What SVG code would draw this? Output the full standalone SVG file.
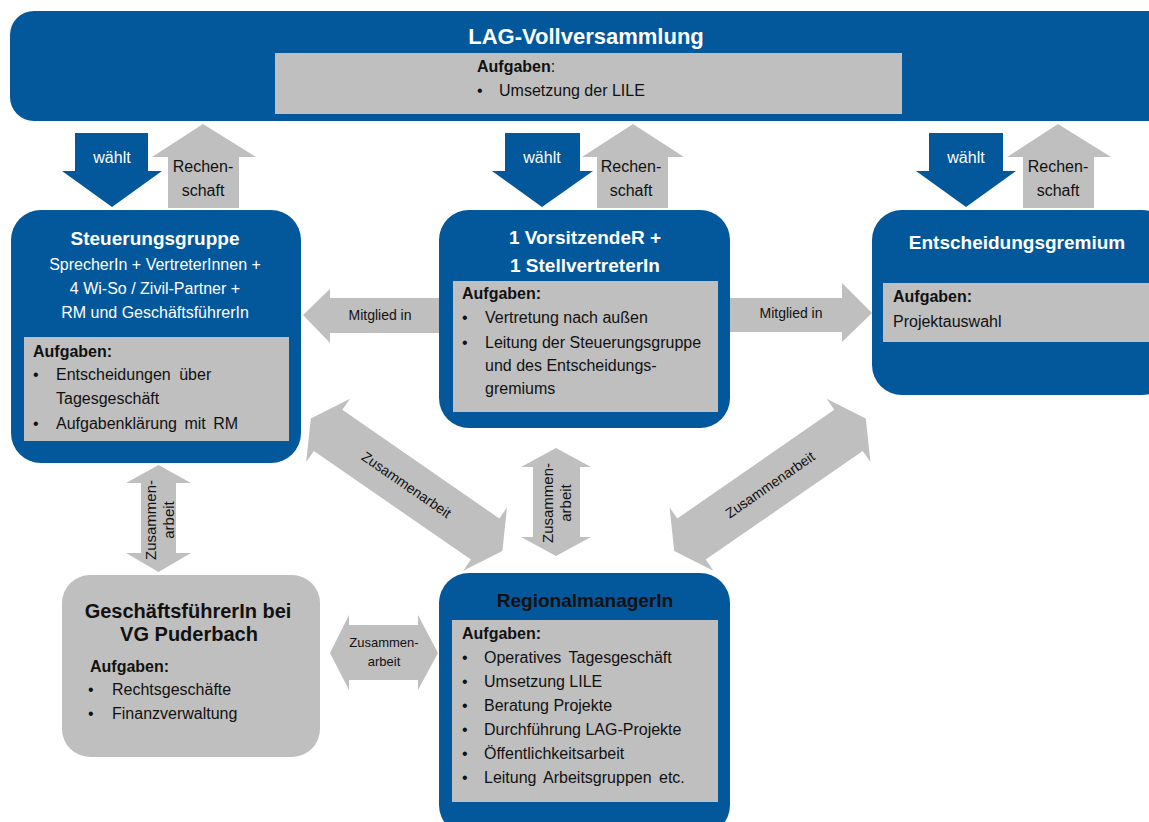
<svg xmlns="http://www.w3.org/2000/svg" width="1149" height="822" viewBox="0 0 1149 822">
<style>
.blue{fill:#03579B}
.gray{fill:#BFBFBF}
text{font-family:"Liberation Sans",Arial,sans-serif;}
.w{fill:#FFFFFF}
.k{fill:#111111}
.b{font-weight:bold}
.f16{font-size:16px}
.f19{font-size:19px}
.f15{font-size:15px}
.f14{font-size:14px}
.f13{font-size:13px}
.c{text-anchor:middle}
</style>
<rect width="1149" height="822" fill="#FFFFFF"/>

<g id="connectors">
  <!-- wählt arrows (blue, down) -->
  <polygon class="blue" points="75,133 148,133 148,171 162,171 112,207 62,171 75,171"/>
  <polygon class="blue" points="505,133 580,133 580,171 593,171 542,207 492,171 505,171"/>
  <polygon class="blue" points="929,133 1003,133 1003,171 1016,171 966,207 916,171 929,171"/>
  <!-- Rechenschaft arrows (gray, up) -->
  <polygon class="gray" points="203,124 256,157 239,157 239,208 168,208 168,157 152,157"/>
  <polygon class="gray" points="633,124 684,157 668,157 668,208 597,208 597,157 582,157"/>
  <polygon class="gray" points="1058,124 1111,157 1094,157 1094,208 1023,208 1023,157 1007,157"/>
  <text class="w f16 c" x="112" y="163">wählt</text>
  <text class="w f16 c" x="542" y="163">wählt</text>
  <text class="w f16 c" x="966" y="163">wählt</text>
  <text class="k f16 c" x="203" y="172">Rechen-</text>
  <text class="k f16 c" x="203" y="196">schaft</text>
  <text class="k f16 c" x="631" y="172">Rechen-</text>
  <text class="k f16 c" x="631" y="196">schaft</text>
  <text class="k f16 c" x="1058" y="172">Rechen-</text>
  <text class="k f16 c" x="1058" y="196">schaft</text>

  <!-- Mitglied in arrows -->
  <polygon class="gray" points="303,315 330,289 330,298 445,298 445,333 330,333 330,343"/>
  <text class="k f14 c" x="380" y="320">Mitglied in</text>
  <polygon class="gray" points="872,313 842,283 842,298 725,298 725,332 842,332 842,342"/>
  <text class="k f14 c" x="791" y="318">Mitglied in</text>

  <!-- Diagonal Zusammenarbeit arrows -->
  <g transform="translate(406.6,484.7) rotate(34.7)">
    <polygon class="gray" points="-116.5,0 -95.5,-38.5 -95.5,-25 95.5,-25 95.5,-38.5 116.5,0 95.5,38.5 95.5,25 -95.5,25 -95.5,38.5"/>
    <text class="k f14 c" x="0" y="5">Zusammenarbeit</text>
  </g>
  <g transform="translate(770,484.7) rotate(-34.7)">
    <polygon class="gray" points="-116.5,0 -95.5,-38.5 -95.5,-25 95.5,-25 95.5,-38.5 116.5,0 95.5,38.5 95.5,25 -95.5,25 -95.5,38.5"/>
    <text class="k f14 c" x="0" y="5">Zusammenarbeit</text>
  </g>

  <!-- Vertical middle -->
  <polygon class="gray" points="556,448 591,467 580,467 580,537 591,537 556,556 521,537 533,537 533,467 521,467"/>
  <g transform="translate(556,503) rotate(-90)">
    <text class="k f15 c" x="0" y="-3">Zusammen-</text>
    <text class="k f15 c" x="0" y="15">arbeit</text>
  </g>
  <!-- Vertical left -->
  <polygon class="gray" points="158.5,465 191,483 176,483 176,553 191,553 158.5,572 126,553 141,553 141,483 126,483"/>
  <g transform="translate(158.5,520) rotate(-90)">
    <text class="k f15 c" x="0" y="-3">Zusammen-</text>
    <text class="k f15 c" x="0" y="15">arbeit</text>
  </g>
  <!-- Horizontal -->
  <polygon class="gray" points="330,653 349,615 349,625 418,625 418,615 438,653 418,690 418,680 349,680 349,690"/>
  <text class="k f13 c" x="384" y="647">Zusammen-</text>
  <text class="k f13 c" x="384" y="666">arbeit</text>
</g>

<g id="lag-vollversammlung">
  <rect class="blue" x="10" y="11" width="1170" height="110" rx="24"/>
  <text class="w b c" x="586" y="44" font-size="22">LAG-Vollversammlung</text>
  <rect class="gray" x="275" y="53" width="627" height="61"/>
  <text class="k f16" x="477" y="72"><tspan class="b">Aufgaben</tspan>:</text>
  <text class="k f16" x="477" y="96">•</text>
  <text class="k f16" x="499" y="96">Umsetzung der LILE</text>
</g>

<g id="steuerungsgruppe">
  <rect class="blue" x="11" y="210" width="290" height="253" rx="30"/>
  <text class="w b f19 c" x="155" y="245">Steuerungsgruppe</text>
  <text class="w f16 c" x="155" y="270">SprecherIn + VertreterInnen +</text>
  <text class="w f16 c" x="155" y="294">4 Wi-So / Zivil-Partner +</text>
  <text class="w f16 c" x="155" y="318">RM und GeschäftsführerIn</text>
  <rect class="gray" x="24" y="337" width="265" height="104"/>
  <text class="k b f16" x="33" y="357">Aufgaben:</text>
  <text class="k f16" x="33" y="380">•</text>
  <text class="k f16" x="56" y="380" word-spacing="4">Entscheidungen über</text>
  <text class="k f16" x="56" y="404">Tagesgeschäft</text>
  <text class="k f16" x="33" y="429">•</text>
  <text class="k f16" x="56" y="429" word-spacing="3">Aufgabenklärung mit RM</text>
</g>

<g id="vorsitz">
  <rect class="blue" x="439" y="210" width="291" height="218" rx="30"/>
  <text class="w b f19 c" x="585" y="244">1 VorsitzendeR +</text>
  <text class="w b f19 c" x="585" y="272">1 StellvertreterIn</text>
  <rect class="gray" x="453" y="281" width="265" height="131"/>
  <text class="k b f16" x="462" y="299">Aufgaben:</text>
  <text class="k f16" x="462" y="323">•</text>
  <text class="k f16" x="485" y="323">Vertretung nach außen</text>
  <text class="k f16" x="462" y="348">•</text>
  <text class="k f16" x="485" y="348">Leitung der Steuerungsgruppe</text>
  <text class="k f16" x="485" y="371">und des Entscheidungs-</text>
  <text class="k f16" x="485" y="394">gremiums</text>
</g>

<g id="entscheidungsgremium">
  <rect class="blue" x="872" y="210" width="300" height="185" rx="30"/>
  <text class="w b f19 c" x="1017" y="249">Entscheidungsgremium</text>
  <rect class="gray" x="883" y="283" width="280" height="59"/>
  <text class="k b f16" x="893" y="302">Aufgaben:</text>
  <text class="k f16" x="893" y="327">Projektauswahl</text>
</g>

<g id="geschaeftsfuehrer">
  <rect class="gray" x="62" y="575" width="258" height="182" rx="28"/>
  <text class="k b c" font-size="20" x="188" y="618">GeschäftsführerIn bei</text>
  <text class="k b c" font-size="20" x="189" y="641">VG Puderbach</text>
  <text class="k b f16" x="90" y="672">Aufgaben:</text>
  <text class="k f16" x="88" y="695">•</text>
  <text class="k f16" x="112" y="695">Rechtsgeschäfte</text>
  <text class="k f16" x="88" y="719">•</text>
  <text class="k f16" x="112" y="719">Finanzverwaltung</text>
</g>

<g id="regionalmanager">
  <rect class="blue" x="439" y="573" width="291" height="262" rx="30"/>
  <text class="k b f19 c" x="585" y="607">RegionalmanagerIn</text>
  <rect class="gray" x="452" y="620" width="266" height="182"/>
  <text class="k b f16" x="462" y="639">Aufgaben:</text>
  <text class="k f16" x="462" y="663">•</text>
  <text class="k f16" x="484" y="663" word-spacing="3">Operatives Tagesgeschäft</text>
  <text class="k f16" x="462" y="687">•</text>
  <text class="k f16" x="484" y="687">Umsetzung LILE</text>
  <text class="k f16" x="462" y="711">•</text>
  <text class="k f16" x="484" y="711">Beratung Projekte</text>
  <text class="k f16" x="462" y="735">•</text>
  <text class="k f16" x="484" y="735">Durchführung LAG-Projekte</text>
  <text class="k f16" x="462" y="759">•</text>
  <text class="k f16" x="484" y="759">Öffentlichkeitsarbeit</text>
  <text class="k f16" x="462" y="783">•</text>
  <text class="k f16" x="484" y="783" word-spacing="3">Leitung Arbeitsgruppen etc.</text>
</g>
</svg>
